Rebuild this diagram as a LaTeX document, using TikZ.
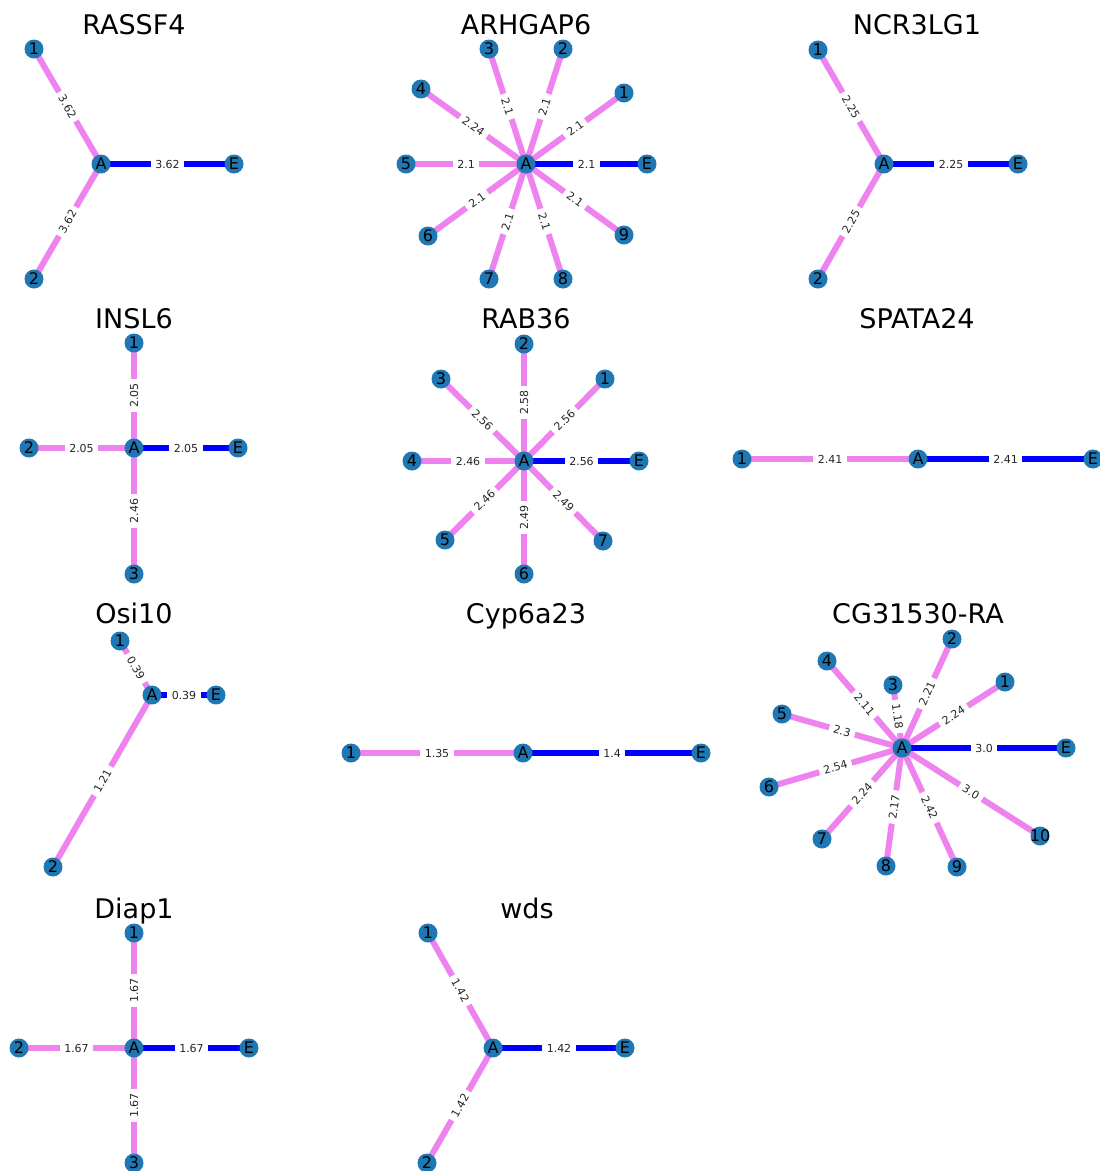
\documentclass[tikz,border=0pt]{standalone}
\usepackage{fontspec}
\setmainfont{DejaVu Sans}
\definecolor{nodeblue}{HTML}{1F77B4}
\definecolor{edgepink}{HTML}{EE82EE}
\definecolor{edgeblue}{HTML}{0000FF}
\pgfdeclarelayer{edges}
\pgfdeclarelayer{labels}
\pgfsetlayers{edges,labels,main}
\tikzset{
  vtx/.style={circle, fill=nodeblue, minimum size=19pt, inner sep=0pt,
              font=\fontsize{16}{16}\selectfont, text=black},
  vlab/.style={inner sep=0pt, font=\fontsize{16}{16}\selectfont, text=black},
  pinkedge/.style={draw=edgepink, line width=6pt},
  blueedge/.style={draw=edgeblue, line width=5.5pt},
  elab/.style={sloped, fill=white, inner xsep=4.5pt, inner ysep=1.5pt,
               font=\fontsize{11}{11}\selectfont, text=black!85},
  ttl/.style={anchor=base, font=\fontsize{27}{27}\selectfont, text=black},
}
% edge line on the lowest layer, its weight label above all lines
\newcommand{\gedge}[4]{%
  \begin{pgfonlayer}{edges}\draw[#1] (#2.center) -- (#3.center);\end{pgfonlayer}%
  \begin{pgfonlayer}{labels}\path (#2.center) -- node[elab] {#4} (#3.center);\end{pgfonlayer}}
\begin{document}
\begin{tikzpicture}[x=1pt,y=-1pt]
\begin{pgfonlayer}{edges}
\fill[white] (0,0) rectangle (1100,1171);
\end{pgfonlayer}
\useasboundingbox (0,0) rectangle (1100,1171);

% ---------------- RASSF4
\node[ttl] (aT) at (134,34) {RASSF4};
\node[vtx] (aA) at (101,164) {A};
\node[vtx] (aE) at (234,164) {E};
\node[vtx] (a1) at (34,49) {1};
\node[vtx] (a2) at (34,279) {2};
\gedge{pinkedge}{aA}{a1}{3.62}
\gedge{pinkedge}{aA}{a2}{3.62}
\gedge{blueedge}{aA}{aE}{3.62}

% ---------------- ARHGAP6
\node[ttl] (bT) at (526,34) {ARHGAP6};
\node[vtx] (bA) at (526,164) {A};
\node[vtx] (bE) at (647,164) {E};
\node[vtx] (b1) at (624,93) {1};
\node[vtx] (b2) at (563,49) {2};
\node[vtx] (b3) at (489,49) {3};
\node[vtx] (b4) at (421,89) {4};
\node[vtx] (b5) at (406,164) {5};
\node[vtx] (b6) at (428,236) {6};
\node[vtx] (b7) at (489,279) {7};
\node[vtx] (b8) at (563,279) {8};
\node[vtx] (b9) at (624,235) {9};
\gedge{pinkedge}{bA}{b1}{2.1}
\gedge{pinkedge}{bA}{b2}{2.1}
\gedge{pinkedge}{bA}{b3}{2.1}
\gedge{pinkedge}{bA}{b4}{2.24}
\gedge{pinkedge}{bA}{b5}{2.1}
\gedge{pinkedge}{bA}{b6}{2.1}
\gedge{pinkedge}{bA}{b7}{2.1}
\gedge{pinkedge}{bA}{b8}{2.1}
\gedge{pinkedge}{bA}{b9}{2.1}
\gedge{blueedge}{bA}{bE}{2.1}

% ---------------- NCR3LG1
\node[ttl] (cT) at (917,34) {NCR3LG1};
\node[vtx] (cA) at (884,164) {A};
\node[vtx] (cE) at (1018,164) {E};
\node[vtx] (c1) at (818,50) {1};
\node[vtx] (c2) at (818,279) {2};
\gedge{pinkedge}{cA}{c1}{2.25}
\gedge{pinkedge}{cA}{c2}{2.25}
\gedge{blueedge}{cA}{cE}{2.25}

% ---------------- INSL6
\node[ttl] (dT) at (134,328) {INSL6};
\node[vtx] (dA) at (134,448) {A};
\node[vtx] (dE) at (238,448) {E};
\node[vtx] (d1) at (134,343) {1};
\node[vtx] (d2) at (29,448) {2};
\node[vtx] (d3) at (134,574) {3};
\gedge{pinkedge}{dA}{d1}{2.05}
\gedge{pinkedge}{d2}{dA}{2.05}
\gedge{pinkedge}{d3}{dA}{2.46}
\gedge{blueedge}{dA}{dE}{2.05}

% ---------------- RAB36
\node[ttl] (eT) at (526,328) {RAB36};
\node[vtx] (eA) at (524,461) {A};
\node[vtx] (eE) at (639,461) {E};
\node[vtx] (e1) at (605,379) {1};
\node[vtx] (e2) at (524,344) {2};
\node[vtx] (e3) at (441,379) {3};
\node[vtx] (e4) at (412,461) {4};
\node[vtx] (e5) at (445,540) {5};
\node[vtx] (e6) at (524,574) {6};
\node[vtx] (e7) at (603,541) {7};
\gedge{pinkedge}{eA}{e1}{2.56}
\gedge{pinkedge}{eA}{e2}{2.58}
\gedge{pinkedge}{eA}{e3}{2.56}
\gedge{pinkedge}{e4}{eA}{2.46}
\gedge{pinkedge}{eA}{e5}{2.46}
\gedge{pinkedge}{e6}{eA}{2.49}
\gedge{pinkedge}{eA}{e7}{2.49}
\gedge{blueedge}{eA}{eE}{2.56}

% ---------------- SPATA24
\node[ttl] (fT) at (917,328) {SPATA24};
\node[vtx] (fA) at (918,459) {A};
\node[vtx] (fE) at (1093,459) {E};
\node[vtx] (f1) at (742,459) {1};
\gedge{pinkedge}{f1}{fA}{2.41}
\gedge{blueedge}{fA}{fE}{2.41}

% ---------------- Osi10
\node[ttl] (gT) at (134,623) {Osi10};
\node[vtx] (gA) at (152,695) {A};
\node[vtx] (gE) at (216,695) {E};
\node[vtx] (g1) at (120,641) {1};
\node[vtx] (g2) at (53,867) {2};
\gedge{pinkedge}{gA}{g1}{0.39}
\gedge{pinkedge}{gA}{g2}{1.21}
\gedge{blueedge}{gA}{gE}{0.39}

% ---------------- Cyp6a23
\node[ttl] (hT) at (526,623) {Cyp6a23};
\node[vtx] (hA) at (523,753) {A};
\node[vtx] (hE) at (701,753) {E};
\node[vtx] (h1) at (351,753) {1};
\gedge{pinkedge}{h1}{hA}{1.35}
\gedge{blueedge}{hA}{hE}{1.4}

% ---------------- CG31530-RA
\node[ttl] (iT) at (918,623) {CG31530-RA};
\node[vtx] (iA) at (902,748) {A};
\node[vtx] (iE) at (1066,748) {E};
\node[vtx] (i1) at (1005,682) {1};
\node[vtx] (i2) at (952,639) {2};
\node[vtx] (i3) at (893,685) {3};
\node[vtx] (i4) at (827,661) {4};
\node[vtx] (i5) at (782,714) {5};
\node[vtx] (i6) at (769,787) {6};
\node[vtx] (i7) at (822,839) {7};
\node[vtx] (i8) at (886,866) {8};
\node[vtx] (i9) at (957,867) {9};
\node[vtx, label={[vlab]center:10}] (i10) at (1040,836) {};
\gedge{pinkedge}{iA}{i1}{2.24}
\gedge{pinkedge}{iA}{i2}{2.21}
\gedge{pinkedge}{iA}{i3}{1.18}
\gedge{pinkedge}{iA}{i4}{2.11}
\gedge{pinkedge}{iA}{i5}{2.3}
\gedge{pinkedge}{iA}{i6}{2.54}
\gedge{pinkedge}{iA}{i7}{2.24}
\gedge{pinkedge}{iA}{i8}{2.17}
\gedge{pinkedge}{iA}{i9}{2.42}
\gedge{pinkedge}{iA}{i10}{3.0}
\gedge{blueedge}{iA}{iE}{3.0}

% ---------------- Diap1
\node[ttl] (jT) at (134,918) {Diap1};
\node[vtx] (jA) at (134,1048) {A};
\node[vtx] (jE) at (249,1048) {E};
\node[vtx] (j1) at (134,933) {1};
\node[vtx] (j2) at (19,1048) {2};
\node[vtx] (j3) at (134,1163) {3};
\gedge{pinkedge}{jA}{j1}{1.67}
\gedge{pinkedge}{j2}{jA}{1.67}
\gedge{pinkedge}{j3}{jA}{1.67}
\gedge{blueedge}{jA}{jE}{1.67}

% ---------------- wds
\node[ttl] (kT) at (527,918) {wds};
\node[vtx] (kA) at (493,1048) {A};
\node[vtx] (kE) at (625,1048) {E};
\node[vtx] (k1) at (428,933) {1};
\node[vtx] (k2) at (427,1163) {2};
\gedge{pinkedge}{kA}{k1}{1.42}
\gedge{pinkedge}{kA}{k2}{1.42}
\gedge{blueedge}{kA}{kE}{1.42}
\end{tikzpicture}
\end{document}
